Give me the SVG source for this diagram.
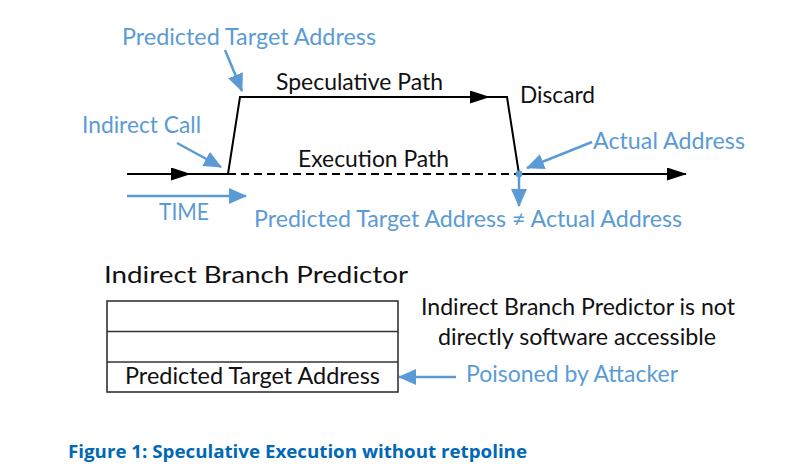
<svg xmlns="http://www.w3.org/2000/svg" width="790" height="469" viewBox="0 0 790 469">
<style>
.lbl{font-family:Lato,"Open Sans","Liberation Sans",sans-serif;font-size:23px;fill:#5B9BD5}
.blk{font-family:Lato,"Open Sans","Liberation Sans",sans-serif;font-size:23px;fill:#111}
.cap{font-family:"Open Sans","Noto Sans","Liberation Sans",sans-serif;font-size:18px;font-weight:bold;fill:#0068B5}
.bl{stroke:#000;stroke-width:2;fill:none}
.bu{stroke:#5B9BD5;stroke-width:2.5;fill:none}
</style>
<defs>
<marker id="ak" viewBox="0 0 20 13" refX="19" refY="6.5" markerWidth="20" markerHeight="13" markerUnits="userSpaceOnUse" orient="auto"><path d="M0,0 L20,6.5 L0,13 z" fill="#000"/></marker>
<marker id="au" viewBox="0 0 18 16" refX="17" refY="8" markerWidth="18" markerHeight="16" markerUnits="userSpaceOnUse" orient="auto"><path d="M0,0 L18,8 L0,16 z" fill="#5B9BD5"/></marker>
</defs>
<rect width="790" height="469" fill="#fff"/>
<g id="connectors">
<path class="bl" d="M127,174 L190,174" marker-end="url(#ak)"/>
<path class="bl" d="M188,174 L228,174 L240,97 L489,97" marker-end="url(#ak)"/>
<path class="bl" d="M487,97 L507,97 L519,174"/>
<path class="bl" d="M228,174 L519,174" stroke-dasharray="8,5"/>
<path class="bl" d="M519,174 L686,174" marker-end="url(#ak)"/>
<path class="bu" d="M225,50 L242,91" marker-end="url(#au)"/>
<path class="bu" d="M177,143 L221,167" marker-end="url(#au)"/>
<path class="bu" d="M127,196 L246,196" marker-end="url(#au)"/>
<path class="bu" d="M592,142 L527,168" marker-end="url(#au)"/>
<path class="bu" d="M519,174 L519,206" marker-end="url(#au)"/>
<path class="bu" d="M456,377 L399,377" marker-end="url(#au)"/>
<circle cx="519" cy="174" r="3.4" fill="#5B9BD5"/>
</g>
<g id="label-predicted-top"><text class="lbl" x="122" y="45" textLength="254" lengthAdjust="spacingAndGlyphs">Predicted Target Address</text></g>
<g id="label-indirect-call"><text class="lbl" x="82" y="133" textLength="119" lengthAdjust="spacingAndGlyphs">Indirect Call</text></g>
<g id="label-time"><text class="lbl" x="159" y="220" textLength="50" lengthAdjust="spacingAndGlyphs">TIME</text></g>
<g id="label-speculative"><text class="blk" x="276" y="90" textLength="167" lengthAdjust="spacingAndGlyphs">Speculative Path</text></g>
<g id="label-execution"><text class="blk" x="298" y="167" textLength="151" lengthAdjust="spacingAndGlyphs">Execution Path</text></g>
<g id="label-discard"><text class="blk" x="520" y="103" textLength="75" lengthAdjust="spacingAndGlyphs">Discard</text></g>
<g id="label-actual"><text class="lbl" x="593" y="149" textLength="152" lengthAdjust="spacingAndGlyphs">Actual Address</text></g>
<g id="label-neq"><text class="lbl" x="254" y="227" textLength="428" lengthAdjust="spacingAndGlyphs">Predicted Target Address ≠ Actual Address</text></g>
<g id="ibp-title"><text class="blk" x="104" y="283" font-size="25.5" textLength="304" lengthAdjust="spacingAndGlyphs">Indirect Branch Predictor</text></g>
<g id="ibp-table">
<rect x="107" y="301" width="291" height="91" fill="#fff" stroke="#333" stroke-width="1.6"/>
<line x1="107" y1="331.5" x2="398" y2="331.5" stroke="#333" stroke-width="1.6"/>
<line x1="107" y1="362" x2="398" y2="362" stroke="#333" stroke-width="1.6"/>
<text class="blk" x="125" y="384" textLength="255" lengthAdjust="spacingAndGlyphs">Predicted Target Address</text>
</g>
<g id="note"><text class="blk" x="421" y="315" textLength="314" lengthAdjust="spacingAndGlyphs">Indirect Branch Predictor is not</text><text class="blk" x="438" y="345" textLength="278" lengthAdjust="spacingAndGlyphs">directly software accessible</text></g>
<g id="label-poisoned"><text class="lbl" x="466" y="382" textLength="212" lengthAdjust="spacingAndGlyphs">Poisoned by Attacker</text></g>
<g id="caption"><text class="cap" x="68" y="458" textLength="459" lengthAdjust="spacingAndGlyphs">Figure 1: Speculative Execution without retpoline</text></g>
</svg>
